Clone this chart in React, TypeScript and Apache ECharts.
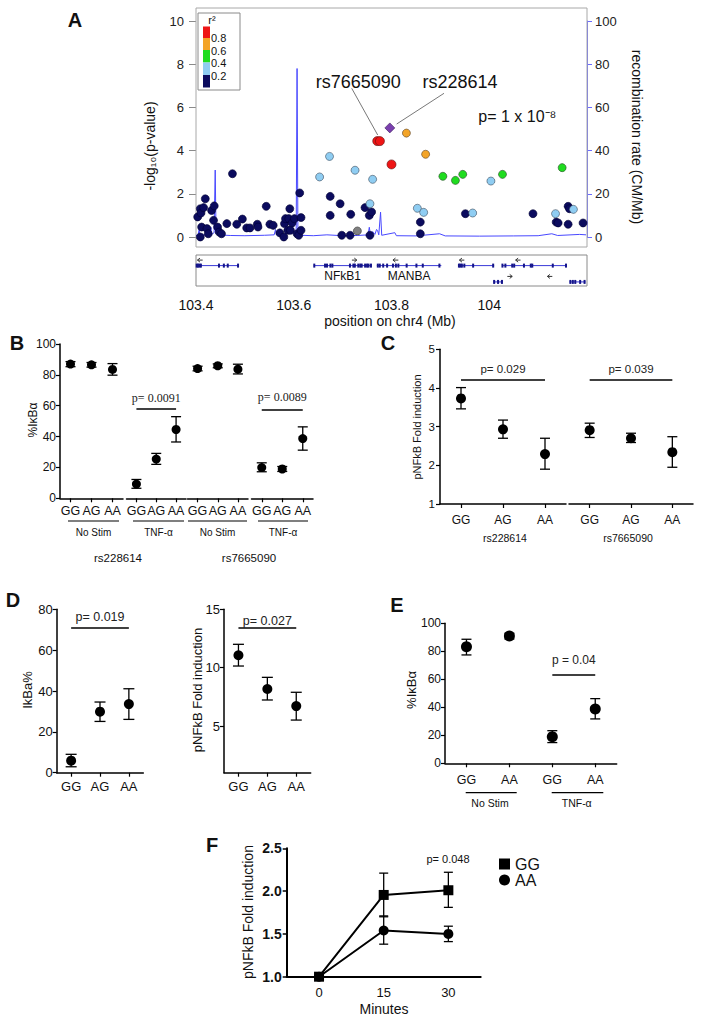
import React, { useEffect, useRef } from "react";
import * as echarts from "echarts";

const FONT = "'Liberation Sans', Arial, Helvetica, sans-serif";
const SERIF = "'Liberation Serif', 'Times New Roman', serif";

// ---------------- Panel A data ----------------
const snpNavy: [number, number][] = [
  [103.4034, 0.93], [103.4088, 1.31], [103.4102, 1.11], [103.4156, 1.36], [103.419, 1.77],
  [103.4115, 0.46], [103.4088, 0.0], [103.4224, 0.39], [103.4251, 0.15], [103.4319, 1.23],
  [103.4373, 1.44], [103.4359, 0.77], [103.4441, 0.46], [103.4475, 0.23], [103.4522, 0.15],
  [103.4631, 0.62], [103.4746, 2.93], [103.4834, 0.59], [103.4949, 0.83], [103.5037, 0.42],
  [103.5105, 0.42], [103.5254, 0.59], [103.5268, 0.46], [103.5437, 1.42], [103.5512, 0.59],
  [103.558, 0.54], [103.5715, 0.19], [103.5797, 0.0], [103.581, 0.62], [103.5831, 0.85],
  [103.5898, 0.85], [103.5919, 1.31], [103.5878, 0.31], [103.5932, 0.31], [103.5966, 0.65],
  [103.6014, 0.85], [103.6068, 0.15], [103.6102, 0.08], [103.6122, 2.04], [103.6149, 0.31],
  [103.6149, 0.9], [103.6746, 1.88], [103.6746, 1.0], [103.6949, 1.54], [103.6983, 0.08],
  [103.7153, 0.08], [103.7166, 1.05], [103.7458, 1.36], [103.7546, 1.0], [103.7559, 0.08],
  [103.7593, 1.16], [103.859, 0.69], [103.859, 0.15], [103.9512, 1.08], [104.0895, 1.08],
  [104.1369, 0.69], [104.141, 0.65], [104.1614, 0.59], [104.1614, 1.42], [104.1641, 1.31],
  [104.1919, 0.65],
];
const snpGray: [number, number][] = [[103.7302, 0.28]];
const snpLightBlue: [number, number][] = [
  [103.6529, 2.78], [103.6732, 3.73], [103.7254, 3.09], [103.7559, 1.54], [103.7614, 2.67],
  [103.8529, 1.33], [103.8658, 1.14], [103.9661, 1.11], [104.0034, 2.59], [104.1356, 1.08],
  [104.1722, 1.28],
];
const snpGreen: [number, number][] = [
  [103.9051, 2.81], [103.9308, 2.62], [103.9458, 2.9], [104.0271, 2.9], [104.1492, 3.21],
];
const snpOrange: [number, number][] = [[103.8305, 4.81], [103.8698, 3.83]];
const snpRed: [number, number][] = [[103.7708, 4.44], [103.7763, 4.44], [103.8, 3.36]];
const snpLead: [number, number][] = [[103.7966, 5.05]];

const recombRate: [number, number][] = [
  [103.4, 0.8], [103.404, 0.8], [103.4065, 3.5], [103.408, 0.8], [103.428, 1.2], [103.4305, 4.5],
  [103.432, 1.2], [103.437, 2], [103.4393, 31], [103.441, 2], [103.4427, 5], [103.445, 1.0],
  [103.47, 0.7], [103.5, 0.6], [103.54, 0.8], [103.56, 1.0], [103.5627, 3.5], [103.565, 1.0],
  [103.58, 1.2], [103.5932, 2.5], [103.6, 1.5], [103.605, 3], [103.6068, 78], [103.6085, 3],
  [103.6102, 2.5], [103.615, 0.8], [103.64, 0.6], [103.6678, 1.0], [103.7, 0.6], [103.73, 0.7],
  [103.752, 1.0], [103.7546, 4.5], [103.757, 1.0], [103.7614, 2.5], [103.766, 1.2], [103.7695, 3.5],
  [103.7715, 3], [103.774, 1.0], [103.7776, 11.5], [103.78, 0.8], [103.8068, 2], [103.81, 0.6],
  [103.85, 0.5], [103.8983, 1.5], [103.91, 0.5], [103.98, 0.4], [104.05, 0.5], [104.1, 0.6],
  [104.128, 1.5], [104.14, 0.7], [104.185, 1.2], [104.198, 1.0],
];

const geneStart = [103.4, 103.641, 103.77, 103.936, 104.026, 104.008, 104.164];
const geneEnd = [103.486, 103.759, 103.902, 104.01, 104.159, 104.028, 104.197];
const geneRow = [1, 1, 1, 1, 1, 2, 2];
const geneLabel = ["", "NFkB1", "MANBA", "", "", "", ""];
const geneExons: number[][] = [
  [103.4014, 103.404, 103.407, 103.41, 103.447, 103.457, 103.465, 103.486],
  [103.642, 103.664, 103.668, 103.675, 103.679, 103.715, 103.722, 103.725, 103.732, 103.736, 103.739, 103.746, 103.75, 103.753, 103.758],
  [103.772, 103.776, 103.783, 103.791, 103.803, 103.809, 103.814, 103.831, 103.851, 103.864, 103.898],
  [103.938, 103.941, 103.944, 103.949, 103.967, 104.008],
  [104.027, 104.033, 104.047, 104.051, 104.071, 104.085, 104.088, 104.13, 104.157],
  [104.01, 104.018, 104.026],
  [104.166, 104.171, 104.176, 104.186, 104.195],
];
const arrowFrom = [103.4136, 103.719, 103.814, 103.949, 104.064, 104.037, 104.129];
const arrowTo = [103.403, 103.729, 103.803, 103.939, 104.054, 104.047, 104.119];
const arrowRow = [1, 1, 1, 1, 1, 2, 2];

// ---------------- Panel B data ----------------
const genotypes3 = ["GG", "AG", "AA"];
const bNoStim228 = [87, 86.5, 83.5];
const bNoStim228Lo = [85.3, 85, 79.8];
const bNoStim228Hi = [88.6, 88, 87.3];
const bTnf228 = [9.2, 25.4, 44.6];
const bTnf228Lo = [6.5, 22, 36.5];
const bTnf228Hi = [12.2, 29.1, 52.9];
const bNoStim766 = [84.1, 85.9, 83.7];
const bNoStim766Lo = [82.6, 84.6, 80.6];
const bNoStim766Hi = [85.6, 87.1, 86.9];
const bTnf766 = [19.9, 19, 38.7];
const bTnf766Lo = [17.2, 17.4, 31.2];
const bTnf766Hi = [23, 20.6, 46.3];

// ---------------- Panel C data ----------------
const c228 = [3.73, 2.93, 2.29];
const c228Lo = [3.46, 2.7, 1.9];
const c228Hi = [4.01, 3.17, 2.7];
const c766 = [2.91, 2.7, 2.34];
const c766Lo = [2.72, 2.59, 1.95];
const c766Hi = [3.09, 2.83, 2.74];

// ---------------- Panel D data ----------------
const dIkba = [5.9, 29.9, 33.6];
const dIkbaLo = [2.9, 25.1, 26.1];
const dIkbaHi = [9.0, 34.6, 41.1];
const dPnfkb = [11.06, 8.17, 6.71];
const dPnfkbLo = [10.14, 7.23, 5.51];
const dPnfkbHi = [12.0, 9.17, 7.89];
const dPnfkbTicks = [5, 10, 15];

// ---------------- Panel E data ----------------
const eCats = ["GG", "AA", "GG", "AA"];
const eIkba = [83.3, 91, 19, 38.8];
const eIkbaLo = [77.4, 88.8, 14.8, 31.7];
const eIkbaHi = [88.6, 92.9, 23.3, 46.2];

// ---------------- Panel F data ----------------
const fMinutes = ["0", "15", "30"];
const fGG = [1.0, 1.955, 2.01];
const fGGLo = [null, 1.7, 1.81];
const fGGHi = [null, 2.21, 2.22];
const fAA = [1.0, 1.54, 1.5];
const fAALo = [null, 1.38, 1.41];
const fAAHi = [null, 1.71, 1.59];

// ---------------- helpers ----------------
const txt = (x: number, y: number, text: string, size: number, o: any = {}) => ({
  type: "text",
  x,
  y,
  rotation: o.rot || 0,
  silent: true,
  z: 10,
  style: {
    text,
    fontSize: size,
    fontFamily: o.family || FONT,
    fontWeight: o.weight || "normal",
    fill: o.color || "#111",
    textAlign: o.align || "center",
    align: o.align || "center",
    textVerticalAlign: "middle",
    verticalAlign: "middle",
  },
});
const ln = (x1: number, y1: number, x2: number, y2: number, w = 1.2, color = "#000") => ({
  type: "line",
  silent: true,
  z: 10,
  shape: { x1, y1, x2, y2 },
  style: { stroke: color, lineWidth: w },
});
const rc = (x: number, y: number, width: number, height: number, fill: string, stroke?: string) => ({
  type: "rect",
  silent: true,
  z: 9,
  shape: { x, y, width, height },
  style: { fill, stroke: stroke || "none", lineWidth: 1 },
});

const errRender = (cap: number, w = 1.3) => (params: any, api: any) => {
  const x = api.value(0);
  const lo = api.coord([x, api.value(1)]);
  const hi = api.coord([x, api.value(2)]);
  const st = { stroke: "#000", lineWidth: w };
  return {
    type: "group",
    children: [
      { type: "line", shape: { x1: lo[0], y1: lo[1], x2: hi[0], y2: hi[1] }, style: st },
      { type: "line", shape: { x1: lo[0] - cap, y1: lo[1], x2: lo[0] + cap, y2: lo[1] }, style: st },
      { type: "line", shape: { x1: hi[0] - cap, y1: hi[1], x2: hi[0] + cap, y2: hi[1] }, style: st },
    ],
  };
};

const pMark = (text: string, from: number, to: number, y: number, size: number, family = FONT, dist = 4) => ({
  silent: true,
  symbol: ["none", "none"],
  lineStyle: { color: "#000", width: 1.5, type: "solid" },
  emphasis: { disabled: true },
  label: {
    show: true,
    position: "insideMiddleTop",
    formatter: text,
    fontSize: size,
    fontFamily: family,
    color: "#222",
    distance: dist,
  },
  data: [[{ coord: [from, y] }, { coord: [to, y] }]],
});

const dotPanel = (
  xi: number, yi: number, mean: number[], lo: number[], hi: number[],
  size: number, cap: number, mark?: any
) => [
  {
    type: "custom",
    xAxisIndex: xi,
    yAxisIndex: yi,
    silent: true,
    z: 3,
    renderItem: errRender(cap),
    encode: { x: 0, y: [1, 2] },
    data: mean.map((_, i) => [i, lo[i], hi[i]]),
  },
  {
    type: "scatter",
    xAxisIndex: xi,
    yAxisIndex: yi,
    symbol: "circle",
    symbolSize: size,
    silent: true,
    clip: false,
    itemStyle: { color: "#000", opacity: 1 },
    z: 4,
    data: mean.map((v, i) => [i, v]),
    ...(mark ? { markLine: mark } : {}),
  },
];

const catX = (gridIndex: number, data: string[], fontSize: number, margin: number, ticks = true, lw = 1.5) => ({
  gridIndex,
  type: "category",
  data,
  boundaryGap: true,
  axisLine: { show: true, lineStyle: { color: "#000", width: lw } },
  axisTick: { show: ticks, alignWithLabel: true, interval: 0, length: 4, lineStyle: { color: "#000", width: 1.2 } },
  axisLabel: { interval: 0, fontSize, fontFamily: FONT, color: "#111", margin },
  splitLine: { show: false },
});
const valY = (gridIndex: number, min: number, max: number, interval: number, fontSize: number, margin: number, show = true, extra: any = {}) => ({
  gridIndex,
  type: "value",
  min,
  max,
  interval,
  show,
  axisLine: { show: true, lineStyle: { color: "#000", width: 1.5 } },
  axisTick: { show: true, length: 4, lineStyle: { color: "#000", width: 1.2 } },
  axisLabel: { fontSize, fontFamily: FONT, color: "#111", margin },
  splitLine: { show: false },
  ...extra,
});

const snp = (data: [number, number][], color: string, symbol = "circle", size = 8, border = "#1a1a1a") => ({
  type: "scatter",
  xAxisIndex: 0,
  yAxisIndex: 0,
  data,
  symbol,
  symbolSize: size,
  clip: false,
  silent: true,
  z: 5,
  itemStyle: { color, borderColor: border, borderWidth: 0.6, opacity: 1 },
});

export default function App() {
  const ref = useRef<HTMLDivElement>(null);
  useEffect(() => {
    document.body.style.margin = "0";
    if (!ref.current) return;
    const chart = echarts.init(ref.current, null, { renderer: "svg" });

    const grid = [
      { left: 196, top: 21, width: 391, height: 216 }, // 0 A main
      { left: 196, top: 255, width: 391, height: 31, show: true, borderColor: "#8a8a8a", borderWidth: 1 }, // 1 A track
      { left: 60, top: 344, width: 63, height: 154.3 }, // 2 B1
      { left: 126.5, top: 344, width: 59.5, height: 154.3 }, // 3 B2
      { left: 187.5, top: 344, width: 60.5, height: 154.3 }, // 4 B3
      { left: 251.5, top: 344, width: 61.5, height: 154.3 }, // 5 B4
      { left: 440, top: 349.3, width: 126, height: 154.7 }, // 6 C1
      { left: 569, top: 349.3, width: 124, height: 154.7 }, // 7 C2
      { left: 56.7, top: 609.3, width: 86.6, height: 163.4 }, // 8 D1
      { left: 224, top: 609.3, width: 86.7, height: 163.4 }, // 9 D2
      { left: 445, top: 623.3, width: 171.7, height: 140 }, // 10 E
      { left: 286.7, top: 848.3, width: 194, height: 128.4 }, // 11 F
    ];

    const xAxis: any[] = [
      { gridIndex: 0, type: "value", min: 103.4, max: 104.2, show: false },
      {
        gridIndex: 1,
        type: "value",
        min: 103.4,
        max: 104.2,
        interval: 0.2,
        axisLine: { show: false },
        axisTick: { show: false },
        splitLine: { show: false },
        axisLabel: {
          fontSize: 14,
          fontFamily: FONT,
          color: "#111",
          margin: 12,
          formatter: (v: number) => (v > 104.1 ? "" : String(Math.round(v * 10) / 10)),
        },
      },
      catX(2, genotypes3, 12.5, 6.5),
      catX(3, genotypes3, 12.5, 6.5),
      catX(4, genotypes3, 12.5, 6.5),
      catX(5, genotypes3, 12.5, 6.5),
      catX(6, genotypes3, 12, 10),
      catX(7, genotypes3, 12, 10),
      catX(8, genotypes3, 13, 7.5),
      catX(9, genotypes3, 13, 7.5),
      catX(10, eCats, 12.5, 10),
      catX(11, fMinutes, 13, 9, false, 2),
    ];

    const yAxis: any[] = [
      {
        gridIndex: 0,
        type: "value",
        min: 0,
        max: 10,
        interval: 2,
        axisLine: { show: false },
        axisTick: { show: true, length: 7, lineStyle: { color: "#8a8a8a", width: 1 } },
        axisLabel: { fontSize: 13, fontFamily: FONT, color: "#222", margin: 12 },
        splitLine: { show: false },
      },
      {
        gridIndex: 0,
        type: "value",
        position: "right",
        min: 0,
        max: 100,
        interval: 20,
        axisLine: { show: true, lineStyle: { color: "#6b6bff", width: 1 } },
        axisTick: { show: true, length: 5, lineStyle: { color: "#6b6bff", width: 1 } },
        axisLabel: { fontSize: 13, fontFamily: FONT, color: "#222", margin: 8 },
        splitLine: { show: false },
      },
      { gridIndex: 1, type: "value", min: 0.35, max: 2.25, inverse: true, show: false },
      valY(2, 0, 100, 20, 12, 4),
      valY(3, 0, 100, 20, 12, 4, false),
      valY(4, 0, 100, 20, 12, 4, false),
      valY(5, 0, 100, 20, 12, 4, false),
      valY(6, 1, 5, 1, 11.5, 5),
      valY(7, 1, 5, 1, 11.5, 5, false),
      valY(8, 0, 80, 20, 13, 4),
      valY(9, 1, 15, undefined as any, 13, 4, true, {
        interval: undefined,
        axisTick: { show: true, length: 4, customValues: dPnfkbTicks, lineStyle: { color: "#000", width: 1.2 } },
        axisLabel: { fontSize: 13, fontFamily: FONT, color: "#111", margin: 4, customValues: dPnfkbTicks },
      }),
      valY(10, 0, 100, 20, 12, 4),
      valY(11, 1, 2.5, 0.5, 14, 5, true, {
        axisLine: { show: true, lineStyle: { color: "#000", width: 2 } },
        axisTick: { show: true, length: 4, lineStyle: { color: "#000", width: 1.5 } },
        axisLabel: {
          fontSize: 14,
          fontWeight: "bold",
          fontFamily: FONT,
          color: "#111",
          margin: 5,
          formatter: (v: number) => v.toFixed(1),
        },
      }),
    ];

    const series: any[] = [
      // Panel A
      {
        type: "line",
        xAxisIndex: 0,
        yAxisIndex: 1,
        data: recombRate,
        showSymbol: false,
        symbol: "none",
        silent: true,
        z: 2,
        lineStyle: { color: "#4848ff", width: 1 },
      },
      snp(snpNavy, "#0b0b5e", "circle", 8, "#000033"),
      snp(snpGray, "#808080", "circle", 8, "#333"),
      snp(snpLightBlue, "#8fcdf2", "circle", 8, "#3a4a5a"),
      snp(snpGreen, "#1fdc1f", "circle", 8, "#2a4a2a"),
      snp(snpOrange, "#f3a428", "circle", 8, "#5a4020"),
      snp(snpRed, "#ee1515", "circle", 9, "#5a1010"),
      snp(snpLead, "#7a3fae", "diamond", 10, "#3a1a5a"),
      {
        type: "custom",
        xAxisIndex: 1,
        yAxisIndex: 2,
        silent: true,
        z: 3,
        encode: { x: [0, 1], y: 2 },
        data: geneStart.map((s, i) => [s, geneEnd[i], geneRow[i]]),
        renderItem: (params: any, api: any) => {
          const i = params.dataIndex;
          const row = api.value(2);
          const s = api.coord([api.value(0), row]);
          const e = api.coord([api.value(1), row]);
          const children: any[] = [
            { type: "line", shape: { x1: s[0], y1: s[1], x2: e[0], y2: e[1] }, style: { stroke: "#3a3ad8", lineWidth: 1 } },
          ];
          geneExons[i].forEach((x) => {
            const p = api.coord([x, row]);
            children.push({ type: "rect", shape: { x: p[0] - 1, y: p[1] - 2, width: 2, height: 4 }, style: { fill: "#15158a" } });
          });
          if (geneLabel[i]) {
            children.push({
              type: "text",
              x: (s[0] + e[0]) / 2,
              y: s[1] + 10,
              style: {
                text: geneLabel[i],
                fontSize: 12,
                fontFamily: FONT,
                fill: "#111",
                textAlign: "center",
                align: "center",
                textVerticalAlign: "middle",
                verticalAlign: "middle",
              },
            });
          }
          return { type: "group", children };
        },
      },
      {
        type: "custom",
        xAxisIndex: 1,
        yAxisIndex: 2,
        silent: true,
        z: 3,
        encode: { x: [0, 1], y: 2 },
        data: arrowFrom.map((f, i) => [f, arrowTo[i], arrowRow[i]]),
        renderItem: (params: any, api: any) => {
          const a = api.coord([api.value(0), api.value(2)]);
          const b = api.coord([api.value(1), api.value(2)]);
          const y = a[1] - 5.5;
          const d = Math.sign(b[0] - a[0]) || 1;
          const st = { stroke: "#333", lineWidth: 1, fill: "none" };
          return {
            type: "group",
            children: [
              { type: "line", shape: { x1: a[0], y1: y, x2: b[0], y2: y }, style: st },
              { type: "polyline", shape: { points: [[b[0] - d * 2.5, y - 2], [b[0], y], [b[0] - d * 2.5, y + 2]] }, style: st },
            ],
          };
        },
      },
      // Panel B
      ...dotPanel(2, 3, bNoStim228, bNoStim228Lo, bNoStim228Hi, 9, 5),
      ...dotPanel(3, 4, bTnf228, bTnf228Lo, bTnf228Hi, 9, 5, pMark("p= 0.0091", 0, 2, 58, 12, SERIF, 5)),
      ...dotPanel(4, 5, bNoStim766, bNoStim766Lo, bNoStim766Hi, 9, 5),
      ...dotPanel(5, 6, bTnf766, bTnf766Lo, bTnf766Hi, 9, 5, pMark("p= 0.0089", 0, 2, 57.4, 12, SERIF, 7)),
      // Panel C
      ...dotPanel(6, 7, c228, c228Lo, c228Hi, 10, 5, pMark("p= 0.029", 0, 2, 4.2, 11.5, FONT, 5)),
      ...dotPanel(7, 8, c766, c766Lo, c766Hi, 10, 5, pMark("p= 0.039", 0, 2, 4.2, 11.5, FONT, 5)),
      // Panel D
      ...dotPanel(8, 9, dIkba, dIkbaLo, dIkbaHi, 10, 5.5, pMark("p= 0.019", 0, 2, 70.9, 12.5, FONT, 4)),
      ...dotPanel(9, 10, dPnfkb, dPnfkbLo, dPnfkbHi, 10, 5.5, pMark("p= 0.027", 0, 2, 13.42, 12.5, FONT, 0)),
      // Panel E
      ...dotPanel(10, 11, eIkba, eIkbaLo, eIkbaHi, 11, 5, pMark("p = 0.04", 2, 3, 63, 12, FONT, 9)),
      // Panel F
      {
        type: "custom",
        xAxisIndex: 11,
        yAxisIndex: 12,
        silent: true,
        z: 3,
        renderItem: errRender(4.5, 1.3),
        encode: { x: 0, y: [1, 2] },
        data: [
          ...fGG.map((_, i) => [i, fGGLo[i], fGGHi[i]]).filter((d) => d[1] != null),
          ...fAA.map((_, i) => [i, fAALo[i], fAAHi[i]]).filter((d) => d[1] != null),
        ],
      },
      {
        name: "GG",
        type: "line",
        xAxisIndex: 11,
        yAxisIndex: 12,
        data: fGG,
        symbol: "rect",
        symbolSize: 10,
        showAllSymbol: true,
        silent: true,
        z: 4,
        itemStyle: { color: "#000", opacity: 1 },
        lineStyle: { color: "#000", width: 2 },
      },
      {
        name: "AA",
        type: "line",
        xAxisIndex: 11,
        yAxisIndex: 12,
        data: fAA,
        symbol: "circle",
        symbolSize: 10,
        showAllSymbol: true,
        silent: true,
        z: 4,
        itemStyle: { color: "#000", opacity: 1 },
        lineStyle: { color: "#000", width: 2 },
      },
    ];

    const graphic: any[] = [
      // Panel A
      txt(75, 20, "A", 20, { weight: "bold" }),
      { type: "rect", silent: true, z: 1, shape: { x: 196, y: 8, width: 391, height: 239 }, style: { fill: "none", stroke: "#a8a8a8", lineWidth: 1 } },
      rc(198, 13, 42, 77, "#fff", "#8a8a8a"),
      rc(203, 26.5, 7, 11.5, "#ee1515"),
      rc(203, 38, 7, 12, "#f3a428"),
      rc(203, 50, 7, 12.5, "#1fdc1f"),
      rc(203, 62.5, 7, 12.5, "#8fcdf2"),
      rc(203, 75, 7, 12.5, "#0b0b5e"),
      txt(212, 20, "r²", 11),
      txt(211, 38, "0.8", 11, { align: "left" }),
      txt(211, 50.5, "0.6", 11, { align: "left" }),
      txt(211, 63, "0.4", 11, { align: "left" }),
      txt(211, 75.5, "0.2", 11, { align: "left" }),
      ln(351.7, 88.3, 377.7, 135, 0.8, "#555"),
      ln(444, 93.3, 396.7, 124, 0.8, "#555"),
      txt(358.3, 81.7, "rs7665090", 18),
      txt(460, 81.7, "rs228614", 18),
      txt(478.3, 116.7, "p= 1 x 10⁻⁸", 16, { align: "left" }),
      txt(150, 146, "-log₁₀(p-value)", 14, { rot: Math.PI / 2 }),
      txt(636.7, 137, "recombination rate (CM/Mb)", 14, { rot: -Math.PI / 2 }),
      txt(390, 321, "position on chr4 (Mb)", 14),
      // Panel B
      txt(17, 343, "B", 20, { weight: "bold" }),
      txt(33, 420, "%IκBα", 12, { rot: Math.PI / 2 }),
      ln(68, 521, 119, 521),
      ln(133, 521, 184, 521),
      ln(188, 521, 247, 521),
      ln(258, 521, 308, 521),
      txt(93.5, 532, "No Stim", 10),
      txt(158.5, 532, "TNF-α", 10),
      txt(217.5, 532, "No Stim", 10),
      txt(283, 532, "TNF-α", 10),
      txt(118, 558, "rs228614", 11.5),
      txt(249, 558, "rs7665090", 11.5),
      // Panel C
      txt(388, 343, "C", 20, { weight: "bold" }),
      txt(417, 427, "pNFkB Fold induction", 11, { rot: Math.PI / 2 }),
      txt(505, 538, "rs228614", 10.5),
      txt(628, 538, "rs7665090", 10.5),
      // Panel D
      txt(13, 600, "D", 20, { weight: "bold" }),
      txt(27, 690, "IkBa%", 13, { rot: Math.PI / 2 }),
      txt(197, 690, "pNFkB Fold induction", 13, { rot: Math.PI / 2 }),
      // Panel E
      txt(397, 605, "E", 20, { weight: "bold" }),
      txt(411.7, 690, "%IκBα", 13, { rot: Math.PI / 2 }),
      ln(465.7, 792.7, 516.7, 792.7),
      ln(551.7, 792.7, 603.3, 792.7),
      txt(490, 803.3, "No Stim", 10.5),
      txt(576.7, 803.3, "TNF-α", 10.5),
      // Panel F
      txt(212, 845, "F", 20, { weight: "bold" }),
      txt(248, 912, "pNFkB Fold induction", 14, { rot: Math.PI / 2 }),
      txt(384, 1009, "Minutes", 14),
      txt(448, 859, "p= 0.048", 11),
    ];

    chart.setOption({
      animation: false,
      backgroundColor: "#fff",
      textStyle: { fontFamily: FONT },
      grid,
      xAxis,
      yAxis,
      series,
      graphic,
      legend: {
        left: 494,
        top: 851,
        orient: "vertical",
        itemGap: 0,
        itemWidth: 11,
        itemHeight: 11,
        selectedMode: false,
        textStyle: { fontSize: 16, fontFamily: FONT, color: "#111", lineHeight: 15 },
        data: [
          { name: "GG", icon: "rect" },
          { name: "AA", icon: "circle" },
        ],
      },
    });
    return () => chart.dispose();
  }, []);

  return (
    <div
      ref={ref}
      style={{ position: "absolute", left: 0, top: 0, width: 704, height: 1023, background: "#fff" }}
    />
  );
}
